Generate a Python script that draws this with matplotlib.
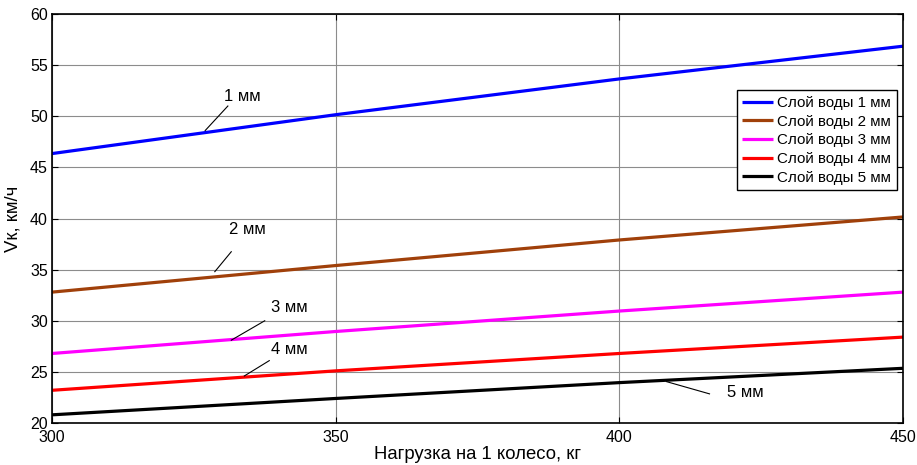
import matplotlib.pyplot as plt
import numpy as np

plt.rcParams['font.family'] = ['Liberation Sans', 'DejaVu Sans']

# нагрузка на колесо, кг
load = [300, 350, 400, 450]

# критическая скорость для разной толщины слоя воды, км/ч
v_1mm = [46.35, 50.15, 53.65, 56.85]
v_2mm = [32.8, 35.4, 37.9, 40.15]
v_3mm = [26.8, 28.95, 30.95, 32.8]
v_4mm = [23.2, 25.1, 26.8, 28.4]
v_5mm = [20.8, 22.4, 23.95, 25.35]

labels = ['Слой воды 1 мм', 'Слой воды 2 мм', 'Слой воды 3 мм',
          'Слой воды 4 мм', 'Слой воды 5 мм']
colors = ['#0000ff', '#a0400a', '#ff00ff', '#ff0000', '#000000']

fig = plt.figure(figsize=(9.17, 4.65), dpi=100)
ax = fig.add_axes([0.0567, 0.0903, 0.928, 0.8796])

for v, lab, c in zip([v_1mm, v_2mm, v_3mm, v_4mm, v_5mm], labels, colors):
    ax.plot(load, v, color=c, lw=2.3, label=lab, solid_capstyle='butt')

ax.set_xlim(300, 450)
ax.set_ylim(20, 60)
ax.set_xticks([300, 350, 400, 450])
ax.set_yticks(np.arange(20, 61, 5))
ax.grid(True, color='#8c8c8c', lw=0.8)
ax.tick_params(direction='in', length=4, labelsize=11.5, top=True, right=True)
ax.tick_params(axis='x', pad=5)
ax.tick_params(axis='y', pad=3)
for s in ax.spines.values():
    s.set_linewidth(1.2)

ax.set_xlabel('Нагрузка на 1 колесо, кг', fontsize=13.3, labelpad=1)
ax.set_ylabel('Vк, км/ч', fontsize=13.3, labelpad=6)

# подписи кривых с выносками
notes = [('1 мм', (333.5, 51.9), (331.0, 51.0), (327.0, 48.6)),
         ('2 мм', (334.4, 38.9), (331.6, 36.75), (328.7, 34.8)),
         ('3 мм', (341.9, 31.25), (337.5, 30.0), (331.6, 28.1)),
         ('4 мм', (341.9, 27.15), (338.3, 26.1), (333.9, 24.6)),
         ('5 мм', (422.2, 22.95), (415.9, 22.85), (408.3, 24.05))]
for txt, pos, p0, p1 in notes:
    ax.text(pos[0], pos[1], txt, fontsize=12, ha='center', va='center')
    ax.plot([p0[0], p1[0]], [p0[1], p1[1]], color='black', lw=0.8)

leg = ax.legend(loc='upper right', bbox_to_anchor=(0.993, 0.814), fontsize=10.9,
                fancybox=False, edgecolor='black', framealpha=1,
                handlelength=2.05, handletextpad=0.27, labelspacing=0.31,
                borderpad=0.38, borderaxespad=0)
leg.get_frame().set_linewidth(1.0)

fig.savefig('out.png', dpi=100)
